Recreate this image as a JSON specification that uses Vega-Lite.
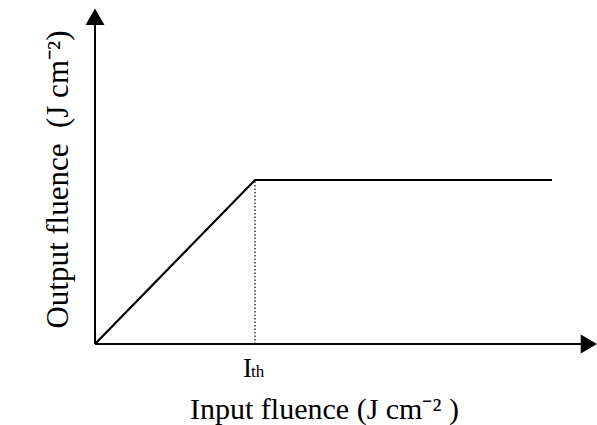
{
  "$schema": "https://vega.github.io/schema/vega-lite/v6.json",
  "width": 502,
  "height": 336,
  "autosize": "none",
  "padding": {"left": 95, "top": 8, "right": 0, "bottom": 81},
  "background": "white",
  "config": {"view": {"stroke": null}},
  "datasets": {
    "curve": [
      {"input": 0, "output": 0},
      {"input": 3.187, "output": 4.881},
      {"input": 9.104, "output": 4.881}
    ],
    "axes": [
      {"x": 0, "y": 0, "x2": 9.7, "y2": 0},
      {"x": 0, "y": 0, "x2": 0, "y2": 9.6}
    ],
    "arrows": [
      {"x": 9.84, "y": 0, "dir": "right"},
      {"x": 0, "y": 9.74, "dir": "up"}
    ],
    "threshold": [
      {"x": 3.187, "y": 0, "y2": 4.881, "label": "I", "sub": "th"}
    ]
  },
  "layer": [
    {
      "data": {"name": "axes"},
      "mark": {"type": "rule", "color": "black", "strokeWidth": 2},
      "encoding": {
        "x": {
          "field": "x", "type": "quantitative",
          "scale": {"domain": [0, 10], "nice": false, "zero": false},
          "axis": {
            "domain": false, "ticks": false, "labels": false, "grid": false,
            "title": "Input fluence (J cm⁻²\u00a0)",
            "titleFont": "Liberation Serif", "titleFontSize": 30, "titleFontWeight": "normal",
            "titleColor": "black", "titleX": 229, "titleY": 74, "titleBaseline": "alphabetic",
            "titleAlign": "center"
          }
        },
        "x2": {"field": "x2"},
        "y": {
          "field": "y", "type": "quantitative",
          "scale": {"domain": [0, 10], "nice": false, "zero": false},
          "axis": {
            "domain": false, "ticks": false, "labels": false, "grid": false,
            "title": "Output\u00a0fluence\u00a0\u00a0(J\u00a0cm⁻²)",
            "titleFont": "Liberation Serif", "titleFontSize": 31, "titleFontWeight": "normal",
            "titleColor": "black", "titleX": -28, "titleY": 171, "titleBaseline": "alphabetic",
            "titleAlign": "center", "titleAngle": -90
          }
        },
        "y2": {"field": "y2"}
      }
    },
    {
      "data": {"name": "arrows"},
      "transform": [{"filter": "datum.dir === 'right'"}],
      "mark": {"type": "point", "shape": "triangle-right", "filled": true, "color": "black", "size": 360, "opacity": 1},
      "encoding": {
        "x": {"field": "x", "type": "quantitative"},
        "y": {"field": "y", "type": "quantitative"}
      }
    },
    {
      "data": {"name": "arrows"},
      "transform": [{"filter": "datum.dir === 'up'"}],
      "mark": {"type": "point", "shape": "triangle-up", "filled": true, "color": "black", "size": 360, "opacity": 1},
      "encoding": {
        "x": {"field": "x", "type": "quantitative"},
        "y": {"field": "y", "type": "quantitative"}
      }
    },
    {
      "data": {"name": "threshold"},
      "mark": {"type": "rule", "color": "black", "strokeWidth": 1.2, "strokeDash": [1.5, 2]},
      "encoding": {
        "x": {"field": "x", "type": "quantitative"},
        "y": {"field": "y", "type": "quantitative"},
        "y2": {"field": "y2"}
      }
    },
    {
      "data": {"name": "curve"},
      "mark": {"type": "line", "color": "black", "strokeWidth": 2.2},
      "encoding": {
        "x": {"field": "input", "type": "quantitative"},
        "y": {"field": "output", "type": "quantitative"}
      }
    },
    {
      "data": {"name": "threshold"},
      "mark": {"type": "text", "font": "Liberation Serif", "fontSize": 27, "color": "black", "align": "right", "baseline": "alphabetic", "dx": -3, "dy": 33},
      "encoding": {
        "x": {"field": "x", "type": "quantitative"},
        "y": {"field": "y", "type": "quantitative"},
        "text": {"field": "label"}
      }
    },
    {
      "data": {"name": "threshold"},
      "mark": {"type": "text", "font": "Liberation Serif", "fontSize": 17, "color": "black", "align": "left", "baseline": "alphabetic", "dx": -4, "dy": 33},
      "encoding": {
        "x": {"field": "x", "type": "quantitative"},
        "y": {"field": "y", "type": "quantitative"},
        "text": {"field": "sub"}
      }
    }
  ]
}
